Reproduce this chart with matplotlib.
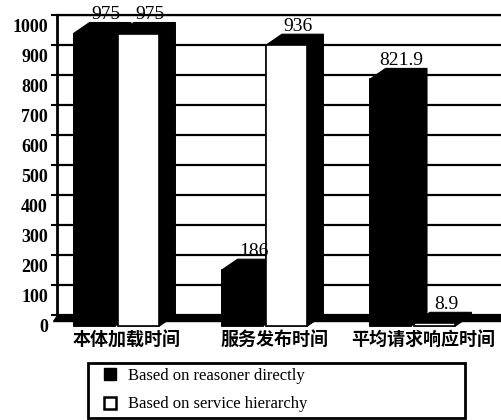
import matplotlib
matplotlib.use("Agg")
import matplotlib.pyplot as plt
from matplotlib.lines import Line2D
from matplotlib.patches import Polygon
from matplotlib.transforms import ScaledTranslation

# Timing results (ms) for each operation, two ways of answering the query
CATEGORIES = ["本体加载时间", "服务发布时间", "平均请求响应时间"]
SERIES_NAMES = ["Based on reasoner directly", "Based on service hierarchy"]
REASONER = [975, 186, 821.9]
HIERARCHY = [975, 936, 8.9]
Y_TICKS = list(range(0, 1001, 100))

SERIF = "Liberation Serif"
CJK = ["Noto Sans CJK SC", "DejaVu Sans"]

W, H, DPI = 502, 420, 100
fig = plt.figure(figsize=(W / DPI, H / DPI), dpi=DPI)
# axes box = back wall of the pseudo-3D chart
ax = fig.add_axes([57 / W, 105 / H, 444 / W, 300 / H])
ax.set_xlim(-0.5, 2.5)
ax.set_ylim(0, 1000)

# depth of the extrusion (px) converted to data units
DEPTH_PX_X, DEPTH_PX_Y = 16, 11
DX = DEPTH_PX_X / (444 / 3.0)
DY = DEPTH_PX_Y / (300 / 1000.0)

BAR_W = 0.28
OFFSETS = [-0.28, 0.02]
FACE = ["black", "white"]

ax.set_axisbelow(True)
ax.yaxis.grid(True, color="black", linewidth=1.6)
for s in ["right", "bottom"]:
    ax.spines[s].set_visible(False)
ax.spines["left"].set_linewidth(2)
ax.spines["top"].set_linewidth(1.6)

# floor slab (thin)
floor = Polygon([(-0.5, 0), (2.5, 0), (2.5, -DY * 0.5),
                 (-0.5 - DX * 0.25, -DY * 0.5)],
                closed=True, facecolor="black", edgecolor="black",
                clip_on=False, zorder=2)
ax.add_patch(floor)


def bar3d(x, h, face):
    # dark silhouette (top + side), then the front face on top
    sil = Polygon([(x - DX, -DY), (x - DX, h - DY), (x, h), (x + BAR_W, h),
                   (x + BAR_W, 0), (x + BAR_W - DX, -DY)],
                  closed=True, facecolor="black", edgecolor="black",
                  linewidth=0.8, clip_on=False, zorder=3)
    ax.add_patch(sil)
    ax.bar(x - DX, h, width=BAR_W, bottom=-DY, align="edge", color=face,
           edgecolor="black", linewidth=1.2, clip_on=False, zorder=4)
    ax.annotate(f"{h:g}", (x + BAR_W / 2 - DX * 0.3, h),
                xytext=(0, 2.5), textcoords="offset points",
                ha="center", va="baseline", fontsize=14,
                family=SERIF, zorder=6, annotation_clip=False)


for i in range(len(CATEGORIES)):
    for j, vals in enumerate([REASONER, HIERARCHY]):
        bar3d(i + OFFSETS[j], vals[i], FACE[j])

# y axis: labels sit on the front edge, below the back-wall gridlines
ax.set_yticks(Y_TICKS)
ax.set_yticklabels([str(t) for t in Y_TICKS], family=SERIF,
                   fontweight="bold", fontsize=13)
ax.tick_params(axis="y", direction="out", length=4, width=1.5, pad=2.5)
shift_y = ScaledTranslation(0, -10 / DPI, fig.dpi_scale_trans)
for lab in ax.get_yticklabels():
    lab.set_transform(lab.get_transform() + shift_y)

ax.set_xticks(range(len(CATEGORIES)))
ax.set_xticklabels(CATEGORIES, family=CJK, fontsize=13, fontweight="bold")
ax.tick_params(axis="x", length=0, pad=11)
shift_x = ScaledTranslation(-4 / DPI, 0, fig.dpi_scale_trans)
for lab in ax.get_xticklabels():
    lab.set_transform(lab.get_transform() + shift_x)

handles = [
    Line2D([], [], marker="s", linestyle="none", markersize=8.6,
           markerfacecolor="black", markeredgecolor="black"),
    Line2D([], [], marker="s", linestyle="none", markersize=8.6,
           markerfacecolor="white", markeredgecolor="black",
           markeredgewidth=1.8),
]
leg = fig.legend(handles, SERIES_NAMES, loc="upper left",
                 bbox_to_anchor=(88 / W, 0, 377 / W, 1 - 363 / H),
                 mode="expand", borderaxespad=0, fancybox=False,
                 edgecolor="black", framealpha=1, borderpad=0.3,
                 labelspacing=0.75, handlelength=2.0, handletextpad=0.1,
                 prop={"family": SERIF, "size": 12})
leg.get_frame().set_linewidth(2)

fig.savefig("out.png", dpi=DPI)
